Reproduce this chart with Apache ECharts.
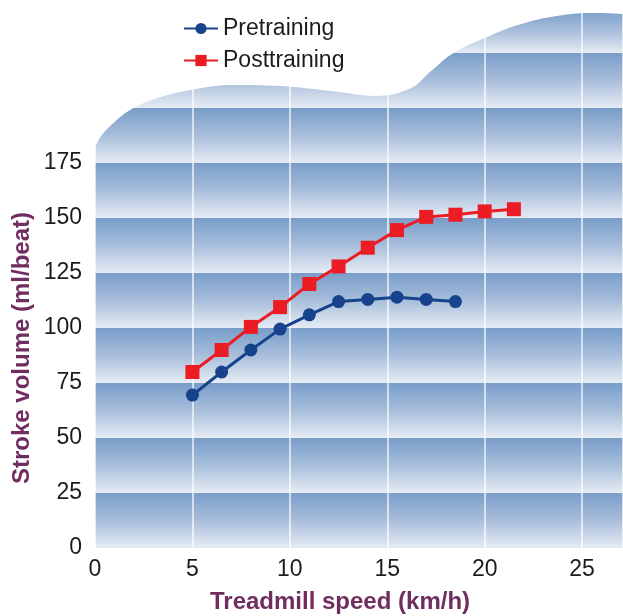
<!DOCTYPE html>
<html>
<head>
<meta charset="utf-8">
<script src="https://cdn.jsdelivr.net/npm/echarts@6/dist/echarts.min.js"></script>
<style>
  html, body { margin: 0; padding: 0; background: #fff; }
  #chart { width: 623px; height: 616px; }
</style>
</head>
<body>
<div id="chart"></div>
<script>
// treadmill speed (km/h)
const preSpeed = [5, 6.5, 8, 9.5, 11, 12.5, 14, 15.5, 17, 18.5]
const preVolume = [69.5, 80, 90, 99.5, 106, 112, 113, 114, 113, 112]
const postSpeed = [5, 6.5, 8, 9.5, 11, 12.5, 14, 15.5, 17, 18.5, 20, 21.5]
const postVolume = [80, 90, 100.5, 109.5, 120, 128, 136.5, 144.5, 150.5, 151.5, 153, 154]
const xTicks = [0, 5, 10, 15, 20, 25]
const yTicks = [0, 25, 50, 75, 100, 125, 150, 175]
// outline of the decorative backdrop top (data units)
const edgeX = [0, 0.28, 0.95, 1.98, 3.37, 4.91, 6.97, 9.54, 12.1, 14.4, 16.2, 17.25, 18.4, 20.0, 21.7, 23.4, 25.5, 27.1]
const edgeY = [182, 186.8, 193.2, 200, 205, 208.2, 210.5, 210, 207.7, 205.5, 209, 216.8, 225, 231.8, 237.7, 241.4, 243.2, 242.7]

const font = 'Liberation Sans, Arial, sans-serif'
const pair = (xs, ys) => xs.map((x, i) => [x, ys[i]])

const chart = echarts.init(document.getElementById('chart'))

const band = new echarts.graphic.LinearGradient(0, 0, 0, 1, [
  { offset: 0, color: '#789dc9' },
  { offset: 0.5, color: '#a8bedb' },
  { offset: 1, color: '#e6ecf4' }
])

const option = {
  animation: false,
  textStyle: { fontFamily: font },
  legend: {
    orient: 'vertical',
    left: 178,
    top: 12,
    itemWidth: 34,
    itemHeight: 14,
    itemGap: 9,
    textStyle: { fontSize: 23, color: '#1c1c1c', fontFamily: font },
    data: ['Pretraining', 'Posttraining']
  },
  grid: { left: 95, right: 0, top: 9, bottom: 68 },
  xAxis: {
    type: 'value',
    min: 0,
    max: 27.1,
    interval: 5,
    axisLine: { show: false },
    axisTick: { show: false },
    axisLabel: {
      fontSize: 23,
      color: '#1c1c1c',
      margin: 10,
      showMaxLabel: false,
      formatter: v => (xTicks.includes(v) ? String(v) : '')
    },
    splitLine: { show: true, lineStyle: { color: 'rgba(255,255,255,0.85)', width: 1.5 } }
  },
  yAxis: {
    type: 'value',
    min: 0,
    max: 245,
    interval: 25,
    axisLine: { show: false },
    axisTick: { show: false },
    axisLabel: {
      fontSize: 23,
      color: '#1c1c1c',
      margin: 13,
      showMaxLabel: false,
      formatter: v => (yTicks.includes(v) ? String(v) : '')
    },
    splitLine: { show: false },
    splitArea: { show: true, areaStyle: { color: [band] } }
  },
  graphic: [
    {
      type: 'text',
      x: 340,
      y: 602,
      style: {
        text: 'Treadmill speed (km/h)',
        font: 'bold 24px ' + font,
        fill: '#6f2d60',
        align: 'center',
        verticalAlign: 'middle'
      }
    },
    {
      type: 'text',
      x: 22,
      y: 348,
      rotation: Math.PI / 2,
      style: {
        text: 'Stroke volume (ml/beat)',
        font: 'bold 24px ' + font,
        fill: '#6f2d60',
        align: 'center',
        verticalAlign: 'middle'
      }
    }
  ],
  series: [
    {
      name: 'backdrop',
      type: 'line',
      data: pair(edgeX, edgeY),
      smooth: 0.4,
      showSymbol: false,
      silent: true,
      z: 1,
      lineStyle: { width: 0, opacity: 0 },
      areaStyle: { color: '#ffffff', opacity: 1, origin: 'end' }
    },
    {
      name: 'Pretraining',
      type: 'line',
      data: pair(preSpeed, preVolume),
      z: 4,
      symbol: 'circle',
      symbolSize: 13,
      itemStyle: { color: '#17438c' },
      lineStyle: { color: '#17438c', width: 3 }
    },
    {
      name: 'Posttraining',
      type: 'line',
      data: pair(postSpeed, postVolume),
      z: 5,
      symbol: 'rect',
      symbolSize: 14,
      itemStyle: { color: '#ec1c24' },
      lineStyle: { color: '#ec1c24', width: 3 }
    }
  ]
}

chart.setOption(option)
</script>
</body>
</html>
